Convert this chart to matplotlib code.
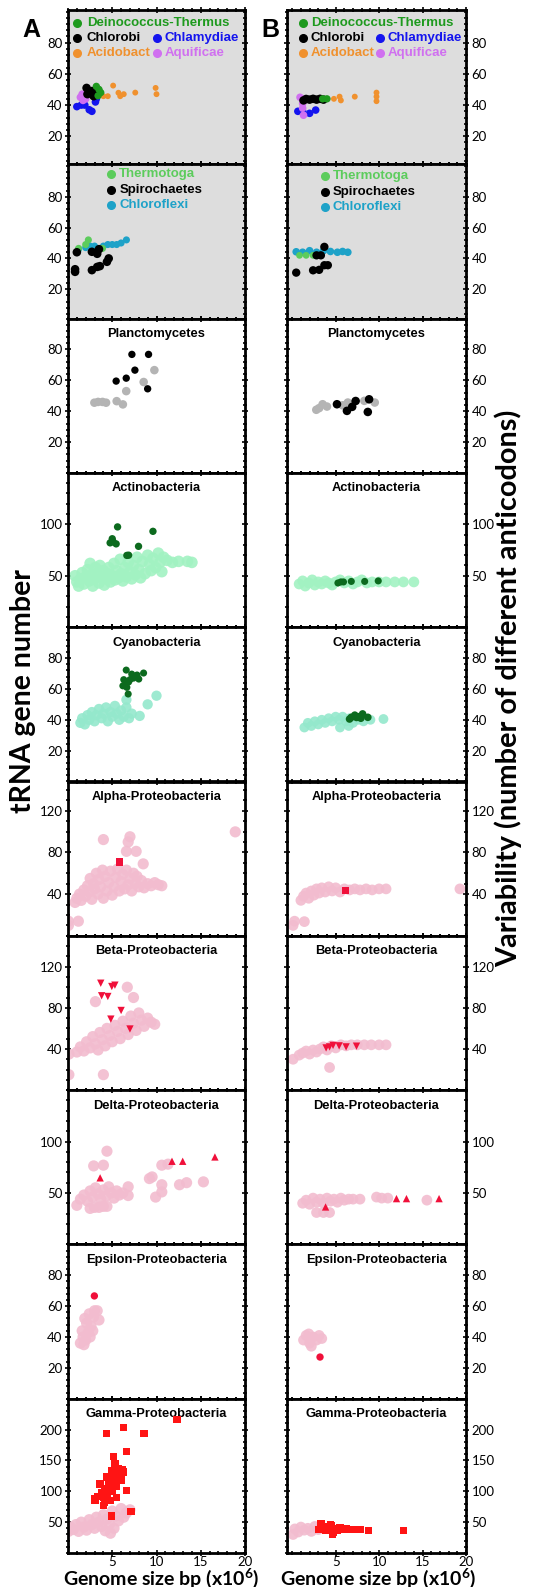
import numpy as np
import matplotlib
matplotlib.use('Agg')
from matplotlib import pyplot as plt
from matplotlib.ticker import MultipleLocator, FixedLocator

plt.rcParams['mathtext.fontset'] = 'custom'
plt.rcParams['mathtext.rm'] = 'Lato'
plt.rcParams['mathtext.bf'] = 'Lato:bold'

### colours ###
GREEN_D = '#1e9a1e'
BLUE = '#1414ee'
ORANGE = '#f0912e'
VIOLET = '#d070f0'
THERMO = '#5ccc5c'
CFLEX = '#1ea2c8'
GRAY = '#b4b4b4'
DKGREEN = '#0c6a1e'
MINT = '#a2f2c2'
AQUA = '#94e8cc'
PINK = '#f2bccf'
RED = '#f0103a'
RED_SQ = '#ff1414'

### data: genome size (x1e6 bp) vs tRNA gene number (A) and anticodon variability (B) ###
# row 1
deino_a_x = [3.5, 3.7, 3.2, 3.4]
deino_a_y = [50, 48, 52, 46]
chlorobi_a_x = [2.1, 2.7, 3.3, 2.2, 2.9, 2.5, 3.0]
chlorobi_a_y = [51, 49, 50, 47, 45.7, 48, 47]
chlamy_a_x = [1.0, 1.5, 1.9, 2.4, 2.7, 3.1, 3.2]
chlamy_a_y = [39, 40, 40, 37, 36, 42, 44]
acido_a_x = [4.0, 4.5, 5.1, 5.7, 5.9, 6.3, 7.6, 9.9, 10.0]
acido_a_y = [45.7, 45.7, 52.5, 47.9, 45.7, 47, 48, 51, 47]
aquif_a_x = [1.4, 1.6, 1.7, 2.0]
aquif_a_y = [45, 47, 43, 44]

deino_b_x = [3.5, 4.0]
deino_b_y = [44, 44]
chlorobi_b_x = [1.6, 2.0, 2.4, 2.8, 3.2, 3.6, 1.3]
chlorobi_b_y = [43.9, 43.5, 44, 43.5, 44, 43.5, 43]
chlamy_b_x = [0.65, 1.2, 2.0, 2.7]
chlamy_b_y = [36, 36, 34.7, 36.8]
acido_b_x = [3.1, 4.8, 5.45, 5.6, 7.2, 9.7, 9.7, 9.7]
acido_b_y = [43.2, 44, 45.4, 43, 45.4, 42.5, 45.4, 48]
aquif_b_x = [1.3, 0.9, 1.2, 1.2, 1.2]
aquif_b_y = [33.5, 45, 38, 41, 44]

# row 2
thermo_a_x = [2.3, 1.2, 3.9, 2.0]
thermo_a_y = [52, 46.5, 46.5, 49]
spiro_a_x = [1.0, 2.7, 3.5, 3.3, 4.6, 4.4, 3.3, 2.7, 0.8, 0.8, 3.6]
spiro_a_y = [44, 44.3, 46, 43, 40, 37.8, 34.5, 32.4, 31.3, 33, 35]
cflex_a_x = [1.2, 2.0, 3.0, 4.0, 5.0, 5.5, 6.0, 6.6, 2.5, 4.5]
cflex_a_y = [46, 47, 48, 48, 49, 49, 50, 52, 48, 49]

thermo_b_x = [0.84, 2.4, 1.6]
thermo_b_y = [42, 42, 42]
spiro_b_x = [3.3, 2.8, 3.7, 0.46, 2.4, 3.1, 3.7, 4.1]
spiro_b_y = [42, 42, 47.5, 30.8, 32.3, 32.6, 35.6, 35.6]
cflex_b_x = [0.46, 1.2, 2.0, 2.8, 3.6, 4.4, 5.2, 5.8, 6.4]
cflex_b_y = [44.3, 44, 45, 44, 45, 44.5, 44, 44.5, 44]

# Planctomycetes
planc_gray_a_x = [2.98, 3.4, 3.9, 4.3, 5.5, 6.2, 6.58, 8.55, 9.76]
planc_gray_a_y = [45.5, 46, 46, 45.5, 46.5, 44.4, 53, 58.9, 66.6]
planc_blk_a_x = [7.22, 9.1, 5.44, 6.58, 7.56, 9.0]
planc_blk_a_y = [76.8, 76.8, 59.5, 61.4, 66.6, 54.5]
planc_gray_b_x = [2.77, 3.1, 3.5, 4.0, 5.8, 6.4, 8.3, 9.5]
planc_gray_b_y = [40.9, 42, 44.5, 43, 43.8, 45.6, 46.7, 45.6]
planc_blk_b_x = [5.15, 6.3, 6.9, 7.3, 8.85, 8.7]
planc_blk_b_y = [44.5, 40.2, 42.8, 46.6, 47.7, 39.5]

# Actinobacteria
actino_lt_a_x = [0.8, 1.0, 1.2, 1.4, 1.6, 1.8, 2.0, 2.2, 2.4, 2.5, 2.6, 2.8, 3.0, 3.1, 3.3,
                 3.5, 3.6, 3.8, 4.0, 4.1, 4.3, 4.5, 4.6, 4.8, 5.0, 5.2, 5.3, 5.5, 5.7, 5.9,
                 6.0, 6.2, 6.4, 6.6, 6.8, 7.0, 7.2, 7.4, 7.6, 7.8, 8.0, 8.2, 8.4, 8.7, 9.0,
                 9.2, 9.4, 9.6, 9.9, 10.2, 10.4, 10.6, 10.8, 11.2, 11.8, 12.5, 13.5, 14.0]
actino_lt_a_y = [50, 44, 40, 47, 53, 42, 49, 56, 45, 62, 51, 40, 47, 58, 53,
                 43, 60, 49, 55, 41, 47, 52, 58, 44, 50, 62, 46, 55, 48, 66,
                 52, 45, 58, 49, 63, 54, 47, 60, 51, 68, 56, 48, 64, 52, 70,
                 61, 55, 67, 58, 72, 63, 54, 68, 65, 63, 64, 64, 63]
actino_dk_a_x = [5.6, 9.6, 5.0, 4.76, 5.1, 5.44, 7.97, 6.65, 6.85]
actino_dk_a_y = [97.5, 93.2, 86, 82, 83, 81, 78.6, 69.8, 70]
actino_lt_b_x = [0.8, 1.2, 1.5, 1.9, 2.3, 2.6, 3.0, 3.4, 3.8, 4.2, 4.6, 5.0, 5.5, 6.0,
                 6.5, 7.0, 7.5, 8.0, 8.6, 9.2, 10.0, 10.8, 11.8, 12.8, 14.0]
actino_lt_b_y = [42, 45, 40, 43, 46, 41, 44, 42, 45, 43, 41, 44, 46, 43,
                 45, 42, 44, 46, 43, 44, 44, 44, 44, 44, 44]
actino_dk_b_x = [5.26, 5.6, 5.9, 6.8, 8.34, 9.9]
actino_dk_b_y = [43, 44, 44, 44.5, 44.5, 45]

# Cyanobacteria
cyano_lt_a_x = [1.4, 1.6, 1.9, 2.2, 2.4, 2.7, 3.0, 3.2, 3.5, 3.8, 4.0, 4.3, 4.5, 4.8,
                5.0, 5.3, 5.5, 5.8, 6.0, 6.3, 6.6, 6.9, 7.2, 6.6, 8.1, 9.0, 10.0]
cyano_lt_a_y = [38, 41, 37, 43, 40, 45, 39, 43, 47, 41, 44, 48, 39, 45,
                42, 49, 44, 40, 46, 42, 48, 41, 44, 53, 42.5, 50, 55.6]
cyano_dk_a_x = [6.58, 8.54, 7.6, 7.2, 6.3, 6.85, 6.65, 6.8, 8.0, 7.4, 6.5, 7.0, 6.2, 7.8]
cyano_dk_a_y = [72.2, 70.3, 68, 69.6, 66, 64.5, 61, 56.7, 66.4, 67, 63, 66, 62, 69]
cyano_lt_b_x = [1.4, 1.8, 2.2, 2.6, 3.0, 3.4, 3.8, 4.2, 4.6, 5.0, 5.4, 5.8, 6.2, 6.6,
                7.0, 7.6, 8.2, 9.0, 10.5, 5.5, 6.5]
cyano_lt_b_y = [35, 38, 36, 39, 37, 40, 38, 41, 39, 42, 40, 42, 39, 41,
                38, 40, 39, 40, 40.5, 35, 36]
cyano_dk_b_x = [6.8, 7.2, 7.6, 8.1, 8.7, 6.6, 7.9, 7.4]
cyano_dk_b_y = [41.6, 43, 42, 43.8, 41.6, 40.5, 41, 41.5]

# Alpha-Proteobacteria
alpha_pk_a_x = [0.8, 1.0, 1.3, 1.5, 1.8, 2.0, 2.2, 2.4, 2.5, 2.7, 2.9, 3.0, 3.2, 3.4, 3.5,
                3.7, 3.9, 4.0, 4.2, 4.4, 4.6, 4.8, 5.0, 5.2, 5.4, 5.6, 5.8, 6.0, 6.2, 6.4,
                6.6, 6.8, 7.0, 7.2, 7.4, 7.6, 7.8, 8.0, 8.3, 8.6, 9.0, 9.4, 9.8, 10.2, 10.6,
                4.0, 7.0, 6.8, 6.6, 7.7, 8.5, 18.9, 0.05, 1.17, 0.05]
alpha_pk_a_y = [32, 36, 40, 34, 44, 38, 48, 42, 55, 35, 50, 45, 60, 40, 54,
                47, 63, 36, 57, 43, 51, 62, 39, 47, 56, 64, 43, 52, 59, 45,
                63, 49, 55, 43, 60, 50, 57, 47, 53, 46, 50, 48, 51, 49, 48,
                92.3, 95, 90, 81, 81, 69, 99.7, 14, 14, 10]
alpha_red_a_x = [5.82]
alpha_red_a_y = [70.7]
alpha_pk_b_x = [1.0, 1.3, 1.6, 1.9, 2.2, 2.5, 2.8, 3.1, 3.4, 3.8, 4.2, 4.6, 5.0, 5.5, 6.0,
                6.6, 7.2, 7.8, 8.5, 9.2, 10.0, 10.8, 19.3, 0.27, 1.4, 0.1]
alpha_pk_b_y = [34, 38, 41, 36, 43, 39, 45, 41, 46, 42, 47, 43, 46, 42, 45,
                44, 45, 44, 45, 44, 45, 45, 45, 14, 13.6, 10]
alpha_red_b_x = [6.15]
alpha_red_b_y = [43.6]

# Beta-Proteobacteria
beta_pk_a_x = [1.0, 1.4, 1.8, 2.1, 2.5, 2.8, 3.1, 3.4, 3.6, 3.9, 4.2, 4.4, 4.7, 5.0, 5.3,
               5.6, 5.9, 6.2, 6.5, 6.8, 7.1, 7.4, 7.7, 8.0, 8.3, 8.6, 9.0, 9.4, 9.8,
               6.7, 7.4, 3.1, 4.0, 0.1, 0.1]
beta_pk_a_y = [37, 42, 38, 47, 41, 52, 45, 39, 56, 49, 43, 60, 53, 47, 63,
               57, 50, 67, 60, 54, 72, 65, 58, 75, 68, 62, 70, 66, 64,
               100, 90, 86, 15, 35, 15]
beta_red_a_x = [3.7, 4.95, 5.3, 3.8, 4.5, 6.0, 4.84, 7.0]
beta_red_a_y = [103.9, 100.7, 102, 91.7, 91, 77.4, 69, 59.4]
beta_pk_b_x = [0.8, 1.2, 1.6, 2.0, 2.4, 2.8, 3.2, 3.6, 4.0, 4.5, 5.0, 5.6, 6.2, 6.8,
               7.5, 8.3, 9.1, 10.0, 10.8, 4.3, 0.1]
beta_pk_b_y = [34, 36, 38, 35, 39, 37, 40, 42, 39, 43, 41, 44, 43, 44,
               44, 44, 44, 44, 44, 22, 30]
beta_red_b_x = [3.9, 4.3, 4.7, 5.4, 6.2, 7.4]
beta_red_b_y = [41, 42, 43.5, 43, 42, 42.7]

# Delta-Proteobacteria
delta_pk_a_x = [1.0, 1.4, 1.8, 2.2, 2.5, 2.8, 3.1, 3.4, 3.7, 4.0, 4.3, 4.6, 4.9, 5.2, 5.5,
                5.8, 6.2, 2.5, 3.0, 3.5, 4.0, 4.4, 4.4, 2.9, 4.0, 6.8, 6.8, 9.5, 9.2,
                10.6, 10.6, 10.6, 9.9, 12.6, 13.4, 15.3, 11.3]
delta_pk_a_y = [38, 44, 48, 42, 52, 46, 55, 49, 44, 53, 47, 56, 50, 45, 52,
                48, 50, 35, 36, 36, 37, 37, 90.6, 76.3, 77, 56, 47.5, 65.6, 64,
                77, 58, 51, 46, 58, 60, 60.8, 78]
delta_red_a_x = [3.63, 11.75, 12.96, 16.6]
delta_red_a_y = [64.7, 80.8, 80.8, 85]
delta_pk_b_x = [1.2, 1.6, 2.0, 2.4, 2.8, 3.2, 3.6, 4.0, 4.4, 4.8, 5.2, 5.6, 6.0, 6.5,
                7.0, 7.8, 9.7, 10.3, 11.0, 15.5, 2.8, 3.6, 4.3]
delta_pk_b_y = [40, 43, 39, 45, 41, 44, 40, 45, 42, 44, 41, 45, 43, 44,
                44, 44, 46, 45, 45, 43, 31, 31, 31]
delta_red_b_x = [3.84, 12.0, 13.15, 16.9]
delta_red_b_y = [36.4, 44.5, 44.5, 44.5]

# Epsilon-Proteobacteria
eps_pk_a_x = [1.4, 1.7, 1.6, 2.0, 2.1, 2.3, 2.5, 2.6, 2.9, 3.0, 3.3, 2.8, 3.5, 1.9, 2.4, 1.8]
eps_pk_a_y = [36, 40, 44, 38, 49, 43, 40, 47, 53, 57, 57, 44, 51, 52, 55, 35]
eps_red_a_x = [2.98]
eps_red_a_y = [66.6]
eps_pk_b_x = [1.3, 1.6, 2.0, 2.4, 2.8, 3.1, 2.2, 3.4, 1.9]
eps_pk_b_y = [38, 41, 36, 40, 38, 41, 34, 39, 42]
eps_red_b_x = [3.2]
eps_red_b_y = [27]

# Gamma-Proteobacteria
gamma_pk_a_x = [0.05, 0.3, 0.6, 0.9, 1.2, 1.5, 1.8, 2.1, 2.4, 2.7, 3.0, 3.2, 3.5, 3.8,
                4.0, 4.2, 4.4, 4.7, 5.0, 5.2, 5.4, 5.7, 6.0, 6.3, 6.6, 7.0, 4.8]
gamma_pk_a_y = [35, 42, 38, 46, 35, 50, 42, 37, 54, 46, 40, 58, 50, 43,
                62, 36, 55, 47, 68, 40, 60, 52, 72, 58, 65, 70, 32]
gamma_red_a_x = [4.38, 6.27, 8.6, 12.3, 6.58, 5.14, 5.3, 4.95, 5.7, 6.27, 4.38, 3.6, 4.8,
                 5.5, 6.58, 3.06, 4.0, 4.8, 3.06, 4.0, 4.95, 7.1, 5.9, 6.0, 5.2, 4.6, 4.2,
                 3.8, 4.4, 5.0, 5.6, 6.1, 3.4, 4.9, 5.3, 4.1, 5.5]
gamma_red_a_y = [193.6, 203, 194, 216.5, 164, 156.6, 145, 133.4, 136, 131, 123, 112, 110,
                 108, 101, 88, 90.7, 85, 85, 77, 60, 67.5, 125, 118, 120, 115, 105,
                 98, 95, 100, 128, 135, 92, 125, 112, 82, 90]
gamma_pk_b_x = [0.3, 0.7, 1.0, 1.4, 1.8, 2.2, 2.6, 3.0, 0.1]
gamma_pk_b_y = [39, 34, 42, 37, 40, 35, 43, 38, 30]
gamma_red_b_x = [3.3, 3.0, 3.5, 3.8, 4.0, 4.3, 4.5, 4.7, 4.9, 5.2, 5.5, 5.8, 6.2, 6.6,
                 7.2, 7.8, 8.8, 12.8, 4.6, 4.4]
gamma_red_b_y = [48, 38, 40, 36, 42, 38, 44, 34, 40, 37, 41, 38, 39, 38,
                 38, 38.5, 36, 36, 31, 46]

titles = [None, None, 'Planctomycetes', 'Actinobacteria', 'Cyanobacteria',
          'Alpha-Proteobacteria', 'Beta-Proteobacteria', 'Delta-Proteobacteria',
          'Epsilon-Proteobacteria', 'Gamma-Proteobacteria']
ylims = [(2, 101), (1, 101), (0, 100), (0, 150), (0, 100),
         (0, 148), (0, 150), (0, 150), (0, 100), (0, 250)]
yticks = [[20, 40, 60, 80], [20, 40, 60, 80], [20, 40, 60, 80], [50, 100], [20, 40, 60, 80],
          [40, 80, 120], [40, 80, 120], [50, 100], [20, 40, 60, 80], [50, 100, 150, 200]]
yminor = [4, 4, 4, 10, 4, 10, 10, 10, 4, 10]

### figure layout ###
fig = plt.figure(figsize=(5.34, 15.87), dpi=100)
W, H = 534.0, 1587.0
top0, ph = 10.0, 154.3
cols = [(68.0, 177.0), (287.0, 179.0)]
axes = [[None] * 10, [None] * 10]
for c, (x0, w) in enumerate(cols):
    for r in range(10):
        t = top0 + r * ph
        ax = fig.add_axes([x0 / W, 1 - (t + ph) / H, w / W, ph / H])
        axes[c][r] = ax
        ax.set_xlim(0, 20) if c == 0 else ax.set_xlim(-0.6, 20)
        ax.set_ylim(*ylims[r])
        ax.xaxis.set_major_locator(FixedLocator([5, 10, 15, 20]))
        ax.xaxis.set_minor_locator(MultipleLocator(1))
        ax.yaxis.set_major_locator(FixedLocator(yticks[r]))
        ax.yaxis.set_minor_locator(MultipleLocator(yminor[r]))
        ax.tick_params(which='both', direction='inout', top=True, bottom=True, left=True, right=True,
                       width=1.2, labelsize=9.5, pad=1.5)
        ax.tick_params(which='major', length=5)
        ax.tick_params(which='minor', length=2.5)
        ax.tick_params(axis='x', labelbottom=(r == 9), pad=-0.5)
        if c == 0:
            ax.tick_params(axis='y', labelleft=True, labelright=False)
        else:
            ax.tick_params(axis='y', labelleft=False, labelright=True)
        for lab in ax.get_xticklabels() + ax.get_yticklabels():
            lab.set_fontfamily('Lato')
        for s in ax.spines.values():
            s.set_linewidth(2)
        if r < 2:
            ax.set_facecolor('#dddddd')
        if titles[r]:
            ax.text(0.5, 0.9, titles[r], transform=ax.transAxes, ha='center', va='center',
                    fontsize=9.3, fontweight='bold', family='Liberation Sans')


def sc(ax, x, y, color, s=26, marker='o', alpha=1.0, z=2):
    ax.scatter(x, y, s=s, c=color, marker=marker, alpha=alpha, edgecolors='none', zorder=z)


def legend_item(ax, xm, xt, y, label, color):
    ax.plot([xm], [y], 'o', color=color, ms=5.5, transform=ax.transAxes, clip_on=False)
    ax.text(xt, y, label, color=color, transform=ax.transAxes, va='center', ha='left',
            fontsize=9.5, fontweight='bold', family='Liberation Sans')


# row 1
A, B = axes[0], axes[1]
for ax, d in [(A[0], 'a'), (B[0], 'b')]:
    g = globals()
    sc(ax, g['acido_%s_x' % d], g['acido_%s_y' % d], ORANGE, s=18)
    sc(ax, g['chlamy_%s_x' % d], g['chlamy_%s_y' % d], BLUE, s=30)
    sc(ax, g['aquif_%s_x' % d], g['aquif_%s_y' % d], VIOLET, s=30)
    sc(ax, g['chlorobi_%s_x' % d], g['chlorobi_%s_y' % d], 'black', s=38)
    sc(ax, g['deino_%s_x' % d], g['deino_%s_y' % d], GREEN_D, s=28)

legend_item(A[0], 0.053, 0.107, 0.918, 'Deinococcus-Thermus', GREEN_D)
legend_item(A[0], 0.053, 0.107, 0.817, 'Chlorobi', 'black')
legend_item(A[0], 0.053, 0.107, 0.720, 'Acidobact', ORANGE)
legend_item(A[0], 0.505, 0.544, 0.817, 'Chlamydiae', BLUE)
legend_item(A[0], 0.505, 0.544, 0.720, 'Aquificae', VIOLET)
legend_item(B[0], 0.091, 0.132, 0.918, 'Deinococcus-Thermus', GREEN_D)
legend_item(B[0], 0.091, 0.132, 0.817, 'Chlorobi', 'black')
legend_item(B[0], 0.091, 0.132, 0.720, 'Acidobact', ORANGE)
legend_item(B[0], 0.52, 0.562, 0.817, 'Chlamydiae', BLUE)
legend_item(B[0], 0.52, 0.562, 0.720, 'Aquificae', VIOLET)

# row 2
sc(A[1], cflex_a_x, cflex_a_y, CFLEX, s=26)
sc(A[1], thermo_a_x, thermo_a_y, THERMO, s=26)
sc(A[1], spiro_a_x, spiro_a_y, 'black', s=38)
sc(B[1], cflex_b_x, cflex_b_y, CFLEX, s=30)
sc(B[1], thermo_b_x, thermo_b_y, THERMO, s=24)
sc(B[1], spiro_b_x, spiro_b_y, 'black', s=36)
legend_item(A[1], 0.243, 0.29, 0.935, 'Thermotoga', THERMO)
legend_item(A[1], 0.243, 0.29, 0.833, 'Spirochaetes', 'black')
legend_item(A[1], 0.243, 0.29, 0.735, 'Chloroflexi', CFLEX)
legend_item(B[1], 0.212, 0.255, 0.924, 'Thermotoga', THERMO)
legend_item(B[1], 0.212, 0.255, 0.820, 'Spirochaetes', 'black')
legend_item(B[1], 0.212, 0.255, 0.722, 'Chloroflexi', CFLEX)

# Planctomycetes
sc(A[2], planc_gray_a_x, planc_gray_a_y, GRAY, s=38)
sc(A[2], planc_blk_a_x, planc_blk_a_y, 'black', s=28)
sc(B[2], planc_gray_b_x, planc_gray_b_y, GRAY, s=38)
sc(B[2], planc_blk_b_x, planc_blk_b_y, 'black', s=38)

# Actinobacteria / Cyanobacteria
sc(A[3], actino_lt_a_x, actino_lt_a_y, MINT, s=70, alpha=0.9)
sc(A[3], actino_dk_a_x, actino_dk_a_y, DKGREEN, s=28)
sc(B[3], actino_lt_b_x, actino_lt_b_y, MINT, s=60, alpha=0.9)
sc(B[3], actino_dk_b_x, actino_dk_b_y, DKGREEN, s=26)
sc(A[4], cyano_lt_a_x, cyano_lt_a_y, AQUA, s=55, alpha=0.9)
sc(A[4], cyano_dk_a_x, cyano_dk_a_y, DKGREEN, s=26)
sc(B[4], cyano_lt_b_x, cyano_lt_b_y, AQUA, s=50, alpha=0.9)
sc(B[4], cyano_dk_b_x, cyano_dk_b_y, DKGREEN, s=30)

# Proteobacteria
prot = [
    (5, alpha_pk_a_x, alpha_pk_a_y, alpha_red_a_x, alpha_red_a_y,
        alpha_pk_b_x, alpha_pk_b_y, alpha_red_b_x, alpha_red_b_y, 's', RED),
    (6, beta_pk_a_x, beta_pk_a_y, beta_red_a_x, beta_red_a_y,
        beta_pk_b_x, beta_pk_b_y, beta_red_b_x, beta_red_b_y, 'v', RED),
    (7, delta_pk_a_x, delta_pk_a_y, delta_red_a_x, delta_red_a_y,
        delta_pk_b_x, delta_pk_b_y, delta_red_b_x, delta_red_b_y, '^', RED),
    (8, eps_pk_a_x, eps_pk_a_y, eps_red_a_x, eps_red_a_y,
        eps_pk_b_x, eps_pk_b_y, eps_red_b_x, eps_red_b_y, 'o', RED),
    (9, gamma_pk_a_x, gamma_pk_a_y, gamma_red_a_x, gamma_red_a_y,
        gamma_pk_b_x, gamma_pk_b_y, gamma_red_b_x, gamma_red_b_y, 's', RED_SQ),
]
for r, pax, pay, rax, ray, pbx, pby, rbx, rby, mk, rc in prot:
    sc(A[r], pax, pay, PINK, s=65, alpha=0.9)
    sc(B[r], pbx, pby, PINK, s=60, alpha=0.9)
    sc(A[r], rax, ray, rc, s=28, marker=mk, z=3)
    sc(B[r], rbx, rby, rc, s=28, marker=mk, z=3)

### labels ###
fig.text(31.5 / W, 1 - 30 / H, 'A', fontsize=18, fontweight='bold', family='Liberation Sans',
         ha='center', va='center')
fig.text(270 / W, 1 - 30 / H, 'B', fontsize=18, fontweight='bold', family='Liberation Sans',
         ha='center', va='center')
fig.text(23 / W, 1 - 691 / H, 'tRNA gene number', rotation=90, fontsize=20.5, fontweight='bold',
         family='Lato', ha='center', va='center')
fig.text(508 / W, 1 - 688 / H, 'Variability (number of different anticodons)', rotation=90,
         fontsize=20.8, fontweight='bold', family='Lato', ha='center', va='center')
for xc in (161, 378):
    fig.text(xc / W, 1 - 1584.5 / H, r'Genome size bp (x10$^{\mathbf{6}}$)', fontsize=14,
             fontweight='bold', family='Lato', ha='center', va='baseline')

fig.savefig('out.png', dpi=100)
